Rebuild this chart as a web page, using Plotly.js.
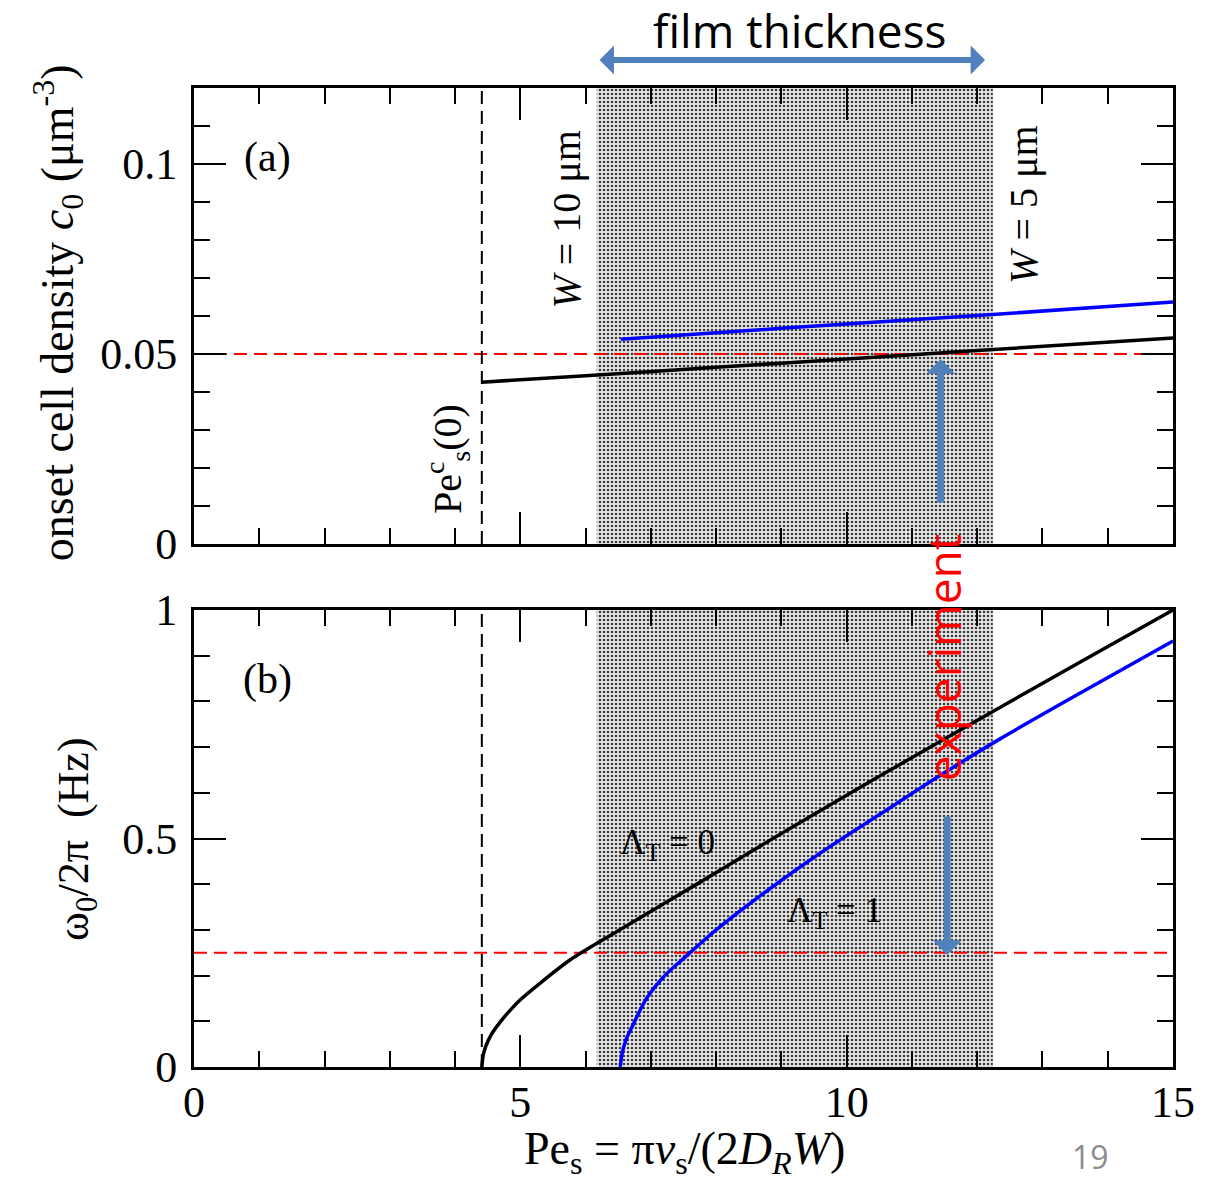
<!DOCTYPE html>
<html>
<head>
<meta charset="utf-8">
<script src="https://cdn.plot.ly/plotly-3.0.1.min.js"></script>
<style>html,body{margin:0;padding:0;background:#fff;}</style>
</head>
<body>
<div id="chart" style="width:1220px;height:1183px;"></div>
<script>
// ---- data ----
// panel (a): onset cell density c0 vs Pe_s
const aBlackX = [4.41, 6, 8, 10, 12, 15];
const aBlackY = [0.0426, 0.0443, 0.0465, 0.0487, 0.0509, 0.0542];
const aBlueX = [6.54, 8, 10, 12.24, 15];
const aBlueY = [0.0539, 0.0556, 0.0579, 0.0604, 0.0637];
// panel (b): omega0/2pi vs Pe_s
const bBlackX = [4.41, 4.43, 4.47, 4.55, 4.7, 4.85, 5, 5.3, 5.76, 6.5, 7.75, 9, 10.4, 12.24, 13.6, 15];
const bBlackY = [0, 0.025, 0.045, 0.07, 0.1, 0.125, 0.147, 0.183, 0.234, 0.298, 0.404, 0.511, 0.628, 0.778, 0.888, 1.0];
const bBlueX = [6.53, 6.56, 6.62, 6.72, 6.92, 7.2, 7.49, 8, 8.87, 9.7, 10.51, 11.4, 12.35, 13.6, 15];
const bBlueY = [0, 0.03, 0.06, 0.09, 0.147, 0.198, 0.236, 0.3, 0.395, 0.478, 0.553, 0.635, 0.718, 0.82, 0.932];
// reference levels
const peCritical = 4.41;          // Pe_s^c(0)
const densityExp = 0.05;          // experimental density
const freqExp = 0.25;             // experimental frequency
const filmRange = [6.17, 12.24];  // film thickness band (W = 10 um .. 5 um)
const xRange = [0, 15];
const aRange = [0, 0.12];
const bRange = [0, 1];
const xTicks = [0, 5, 10, 15];
const aTicks = [0, 0.05, 0.1];
const aTickText = ['0', '0.05', '0.1'];
const bTicks = [0, 0.5, 1];
const bTickText = ['0', '0.5', '1'];

const SERIF = 'Liberation Serif, Times New Roman, serif';
const SANS = 'Open Sans, Liberation Sans, sans-serif';

function band(yr, xa, ya) {
  return {
    x: [filmRange[0], filmRange[1], filmRange[1], filmRange[0], filmRange[0]],
    y: [yr[0], yr[0], yr[1], yr[1], yr[0]],
    xaxis: xa, yaxis: ya, mode: 'lines', fill: 'toself',
    line: {width: 0, color: 'rgba(0,0,0,0)'},
    fillcolor: '#e8e8e8',
    fillpattern: {shape: '.', size: 4, solidity: 0.33, fgcolor: '#3a3a3a', bgcolor: '#e8e8e8', fillmode: 'replace'},
    hoverinfo: 'skip', showlegend: false
  };
}
function line(x, y, xa, ya, color, width, dash) {
  return {x: x, y: y, xaxis: xa, yaxis: ya, mode: 'lines',
    line: {color: color, width: width, dash: dash || 'solid', shape: 'spline', smoothing: 0.8},
    hoverinfo: 'skip', showlegend: false};
}

const traces = [
  band(aRange, 'x2', 'y2'),
  band(bRange, 'x', 'y'),
  // panel a
  line([xRange[0], xRange[1]], [densityExp, densityExp], 'x2', 'y2', '#ff0000', 2, '13px,7px'),
  line([peCritical, peCritical], aRange, 'x2', 'y2', '#000000', 2, '13px,7px'),
  line(aBlackX, aBlackY, 'x2', 'y2', '#000000', 3.5),
  line(aBlueX, aBlueY, 'x2', 'y2', '#0000ff', 3.5),
  // panel b
  line([xRange[0], xRange[1]], [freqExp, freqExp], 'x', 'y', '#ff0000', 2, '13px,7px'),
  line([peCritical, peCritical], bRange, 'x', 'y', '#000000', 2, '13px,7px'),
  line(bBlackX, bBlackY, 'x', 'y', '#000000', 3.5),
  line(bBlueX, bBlueY, 'x', 'y', '#0000ff', 3.5)
];

const axBase = {
  showline: true, linewidth: 3, linecolor: '#000', mirror: 'allticks',
  ticks: 'inside', ticklen: 32, tickwidth: 2, tickcolor: '#000',
  showgrid: false, zeroline: false, fixedrange: true,
  tickfont: {family: SERIF, size: 44, color: '#000'}
};

function ann(o) {
  return Object.assign({xanchor: 'center', yanchor: 'middle', showarrow: false}, o);
}

const layout = {
  width: 1220, height: 1183,
  margin: {l: 194, r: 47, t: 88, b: 116, pad: 0},
  paper_bgcolor: '#fff', plot_bgcolor: '#fff',
  font: {family: SERIF, color: '#000'},
  showlegend: false,
  xaxis: Object.assign({}, axBase, {
    domain: [0, 1], anchor: 'y', range: xRange, tickvals: xTicks, ticktext: xTicks.map(String),
    ticklabelstandoff: -6,
    minor: {ticks: 'inside', ticklen: 16, tickwidth: 2, tickcolor: '#000', dtick: 1, tick0: 0}
  }),
  yaxis: Object.assign({}, axBase, {
    domain: [0, 0.4668], anchor: 'x', range: bRange, tickvals: bTicks, ticktext: bTickText,
    ticklabelstandoff: 5,
    minor: {ticks: 'inside', ticklen: 16, tickwidth: 2, tickcolor: '#000', dtick: 0.1, tick0: 0}
  }),
  xaxis2: Object.assign({}, axBase, {
    domain: [0, 1], anchor: 'y2', range: xRange, tickvals: xTicks, showticklabels: false,
    minor: {ticks: 'inside', ticklen: 16, tickwidth: 2, tickcolor: '#000', dtick: 1, tick0: 0}
  }),
  yaxis2: Object.assign({}, axBase, {
    domain: [0.5342, 1], anchor: 'x2', range: aRange, tickvals: aTicks, ticktext: aTickText,
    ticklabelstandoff: 5,
    minor: {ticks: 'inside', ticklen: 16, tickwidth: 2, tickcolor: '#000', dtick: 0.01, tick0: 0}
  }),
  annotations: [
    // axis titles
    ann({xref: 'paper', yref: 'paper', x: -0.14, y: 0.771, textangle: -90,
     text: 'onset cell density <i>c</i><sub>0</sub> (μm<sup>-3</sup>)', font: {family: SERIF, size: 46}}),
    ann({xref: 'paper', yref: 'paper', x: -0.1195, y: 0.232, textangle: -90,
     text: 'ω<sub>0</sub>/2π  (Hz)', font: {family: SERIF, size: 44}}),
    ann({xref: 'paper', yref: 'paper', x: 0.5015, y: -0.0868,
     text: 'Pe<sub>s</sub> = π<i>v</i><sub>s</sub>/(2<i>D</i><sub><i>R</i></sub><i>W</i>)', font: {family: SERIF, size: 46}}),
    // panel labels
    ann({xref: 'x2', yref: 'y2', x: 1.13, y: 0.1016, text: '(a)', font: {family: SERIF, size: 42}}),
    ann({xref: 'x', yref: 'y', x: 1.13, y: 0.847, text: '(b)', font: {family: SERIF, size: 42}}),
    // W labels
    ann({xref: 'x2', yref: 'y2', x: 5.71, y: 0.0853, textangle: -90,
     text: '<i>W</i> = 10 μm', font: {family: SERIF, size: 40}}),
    ann({xref: 'x2', yref: 'y2', x: 12.70, y: 0.0892, textangle: -90,
     text: '<i>W</i> = 5 μm', font: {family: SERIF, size: 40}}),
    ann({xref: 'x2', yref: 'y2', x: 3.88, y: 0.0224, textangle: -90,
     text: 'Pe<sup>c</sup><sub>s</sub>(0)', font: {family: SERIF, size: 40}}),
    // Lambda labels
    ann({xref: 'x', yref: 'y', x: 7.26, y: 0.486, text: 'Λ<sub>T</sub> = 0', font: {family: SERIF, size: 35}}),
    ann({xref: 'x', yref: 'y', x: 9.81, y: 0.339, text: 'Λ<sub>T</sub> = 1', font: {family: SERIF, size: 35}}),
    // experiment
    ann({xref: 'x', yref: 'paper', x: 11.48, y: 0.4178, textangle: -90,
     text: 'experiment', font: {family: SANS, size: 46, color: '#ff0000'}}),
    // arrows
    {xref: 'x2', yref: 'y2', x: 11.44, y: 0.0487, ax: 0, ay: 145, text: '', showarrow: true,
     arrowhead: 1, arrowsize: 0.7, arrowwidth: 7, arrowcolor: '#4f81bd', standoff: 0},
    {xref: 'x', yref: 'y', x: 11.54, y: 0.245, ax: 0, ay: -140, text: '', showarrow: true,
     arrowhead: 1, arrowsize: 0.7, arrowwidth: 7, arrowcolor: '#4f81bd', standoff: 0},
    {xref: 'x2', yref: 'paper', x: 12.12, y: 1.0286, ax: -387, ay: 0, text: '', showarrow: true,
     arrowhead: 1, startarrowhead: 1, arrowside: 'end+start', arrowsize: 0.8, startarrowsize: 0.8,
     arrowwidth: 6, arrowcolor: '#4f81bd', standoff: 0, startstandoff: 0},
    ann({xref: 'paper', yref: 'paper', x: 0.619, y: 1.0593, text: 'film thickness',
     font: {family: SANS, size: 46, color: '#000'}}),
    // page number
    ann({xref: 'paper', yref: 'paper', x: 0.916, y: -0.0919, text: '19',
     font: {family: SANS, size: 32, color: '#8c8c8c'}})
  ]
};

Plotly.newPlot('chart', traces, layout, {displayModeBar: false, staticPlot: true});
</script>
</body>
</html>
